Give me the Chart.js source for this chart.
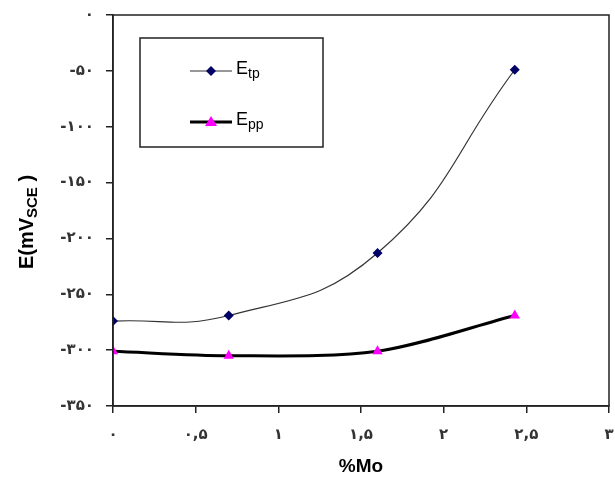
<!DOCTYPE html>
<html>
<head>
<meta charset="utf-8">
<script src="https://cdn.jsdelivr.net/npm/chart.js@4.4.0/dist/chart.umd.min.js"></script>
<style>
  html, body { margin: 0; padding: 0; background: #fff; }
  #wrap { width: 615px; height: 482px; }
</style>
</head>
<body>
<div id="wrap"><canvas id="myChart" width="615" height="482"></canvas></div>
<script>
// Data
const moPercent = [0, 0.7, 1.6, 2.43];
const etpValues = [-274, -269, -213, -49];
const eppValues = [-301, -305, -301, -269];

// Persian tick labels
const xTickLabels = { 0: '۰', 0.5: '۰,۵', 1: '۱', 1.5: '۱,۵', 2: '۲', 2.5: '۲,۵', 3: '۳' };
const yTickLabels = { 0: '۰', '-50': '-۵۰', '-100': '-۱۰۰', '-150': '-۱۵۰', '-200': '-۲۰۰',
                      '-250': '-۲۵۰', '-300': '-۳۰۰', '-350': '-۳۵۰' };

const seriesNames = [['E', 'tp'], ['E', 'pp']];

function toPoints(xs, ys) {
    return xs.map((x, i) => ({ x: x, y: ys[i] }));
}

// draws text with a subscript part
function drawSub(ctx, x, y, main, sub, size, bold) {
    const w = bold ? 'bold ' : '';
    ctx.font = w + size + 'px Arial, "Liberation Sans", sans-serif';
    ctx.fillText(main, x, y);
    const mw = ctx.measureText(main).width;
    ctx.font = w + Math.round(size * 0.75) + 'px Arial, "Liberation Sans", sans-serif';
    ctx.fillText(sub, x + mw, y + size * 0.3);
    return mw + ctx.measureText(sub).width;
}

const extras = {
    id: 'extras',
    afterDraw(chart) {
        const ctx = chart.ctx;
        const a = chart.chartArea;
        ctx.save();
        // frame on the right and top
        ctx.strokeStyle = '#222';
        ctx.lineWidth = 1.5;
        ctx.strokeRect(a.left, a.top, a.right - a.left, a.bottom - a.top);

        // legend box
        const bx = 140, by = 38, bw = 183, bh = 109;
        ctx.lineWidth = 1.5;
        ctx.strokeStyle = '#222';
        ctx.strokeRect(bx, by, bw, bh);
        const rows = [71, 122];
        chart.data.datasets.forEach((ds, i) => {
            const yy = rows[i];
            ctx.strokeStyle = ds.borderColor;
            ctx.lineWidth = ds.borderWidth;
            ctx.beginPath();
            ctx.moveTo(190, yy);
            ctx.lineTo(232, yy);
            ctx.stroke();
            ctx.fillStyle = ds.pointBackgroundColor;
            ctx.beginPath();
            if (i === 0) {
                ctx.moveTo(211, yy - 5); ctx.lineTo(216, yy); ctx.lineTo(211, yy + 5); ctx.lineTo(206, yy);
            } else {
                ctx.moveTo(211, yy - 6); ctx.lineTo(217, yy + 4); ctx.lineTo(205, yy + 4);
            }
            ctx.closePath();
            ctx.fill();
            ctx.fillStyle = '#000';
            ctx.textBaseline = 'middle';
            ctx.textAlign = 'left';
            drawSub(ctx, 236, yy - 2, seriesNames[i][0], seriesNames[i][1], 18, false);
        });

        // y axis title
        ctx.translate(27, 222);
        ctx.rotate(-Math.PI / 2);
        ctx.fillStyle = '#000';
        ctx.textBaseline = 'middle';
        ctx.textAlign = 'left';
        const big = 'bold 20px Arial, "Liberation Sans", sans-serif';
        const small = 'bold 15px Arial, "Liberation Sans", sans-serif';
        ctx.font = big;
        let w = ctx.measureText('E(mV').width + ctx.measureText(' )').width;
        ctx.font = small;
        w += ctx.measureText('SCE').width;
        let sx = -w / 2;
        ctx.font = big;
        ctx.fillText('E(mV', sx, 0);
        sx += ctx.measureText('E(mV').width;
        ctx.font = small;
        ctx.fillText('SCE', sx, 6);
        sx += ctx.measureText('SCE').width;
        ctx.font = big;
        ctx.fillText(' )', sx, 0);
        ctx.restore();
    }
};

const ctx = document.getElementById('myChart').getContext('2d');
const chart = new Chart(ctx, {
    type: 'line',
    data: {
        datasets: [
            {
                label: 'Etp',
                data: toPoints(moPercent, etpValues),
                borderColor: '#333',
                borderWidth: 1.2,
                pointStyle: 'rectRot',
                pointRadius: 5,
                pointBackgroundColor: '#000066',
                pointBorderColor: '#000066',
                pointBorderWidth: 0,
                tension: 0.45,
                fill: false
            },
            {
                label: 'Epp',
                data: toPoints(moPercent, eppValues),
                borderColor: '#000',
                borderWidth: 3,
                pointStyle: 'triangle',
                pointRadius: 6,
                pointBackgroundColor: '#ff00ff',
                pointBorderColor: '#ff00ff',
                pointBorderWidth: 0,
                tension: 0.3,
                fill: false
            }
        ]
    },
    options: {
        responsive: false,
        animation: false,
        layout: { padding: { top: 15, right: 5, left: 0, bottom: 0 } },
        plugins: {
            legend: { display: false },
            tooltip: { enabled: false }
        },
        scales: {
            x: {
                type: 'linear',
                min: 0,
                max: 3,
                afterFit: s => { s.height = 76; s.paddingRight = 0; s.paddingLeft = 0; },
                border: { color: '#222', width: 1.5 },
                grid: { drawOnChartArea: false, drawTicks: true, tickLength: 7, color: '#222', lineWidth: 1.5 },
                ticks: {
                    stepSize: 0.5,
                    padding: 13,
                    color: '#333',
                    font: { family: '"DejaVu Sans", sans-serif', size: 15, weight: 'bold' },
                    callback: v => xTickLabels[v]
                },
                title: {
                    display: true,
                    text: '%Mo',
                    color: '#000',
                    padding: { top: 10 },
                    font: { family: 'Arial, "Liberation Sans", sans-serif', size: 19, weight: 'bold' }
                }
            },
            y: {
                min: -350,
                max: 0,
                afterFit: s => { s.width = 113; s.paddingTop = 0; s.paddingBottom = 0; },
                border: { color: '#222', width: 1.5 },
                grid: { drawOnChartArea: false, drawTicks: true, tickLength: 7, color: '#222', lineWidth: 1.5 },
                ticks: {
                    stepSize: 50,
                    padding: 12,
                    color: '#333',
                    font: { family: '"DejaVu Sans", sans-serif', size: 15, weight: 'bold' },
                    callback: v => yTickLabels[v]
                }
            }
        }
    },
    plugins: [extras]
});
</script>
</body>
</html>
